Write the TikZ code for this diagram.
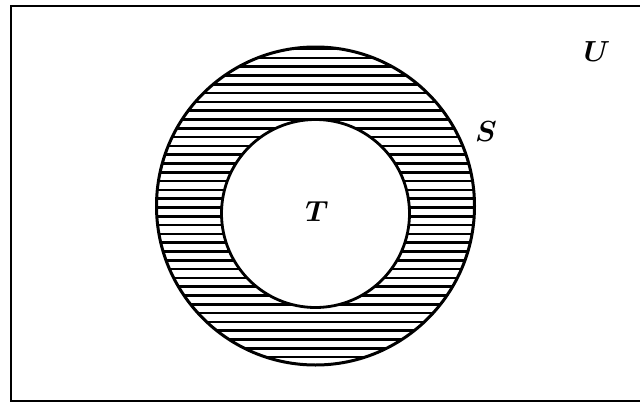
\documentclass[tikz,border=0pt]{standalone}
\begin{document}
\begin{tikzpicture}[x=1pt,y=-1pt,line width=2.6pt,
  setlabel/.style={font=\huge\boldmath,scale=1.4}]

\def \R{159}
\def \r{94}
\def \gap{8.8}
\useasboundingbox (0,0) rectangle (640,407);

\coordinate (tr) at (641,6);
\coordinate (tl) at (11,6);
\coordinate (bl) at (11,401);
\coordinate (br) at (641,401);
\draw (tr) -- (tl) -- (bl) -- (br);

\coordinate (cs) at (315.5,206);
\coordinate (ct) at (315.5,213.5);

\begin{scope}
\clip (cs) circle (\R);
\foreach \y in {0,...,37}
  \draw[line width=2.6pt] (150,{49+\y*\gap}) -- (480,{49+\y*\gap});
\end{scope}
\draw[line width=3pt] (cs) circle (\R);
\filldraw[fill=white,line width=2.8pt] (ct) circle (\r);

\node[setlabel] (U) at (597,52) {$U$};
\node[setlabel] (S) at (486,132) {$S$};
\node[setlabel] (T) at (317,212) {$T$};

\end{tikzpicture}
\end{document}
